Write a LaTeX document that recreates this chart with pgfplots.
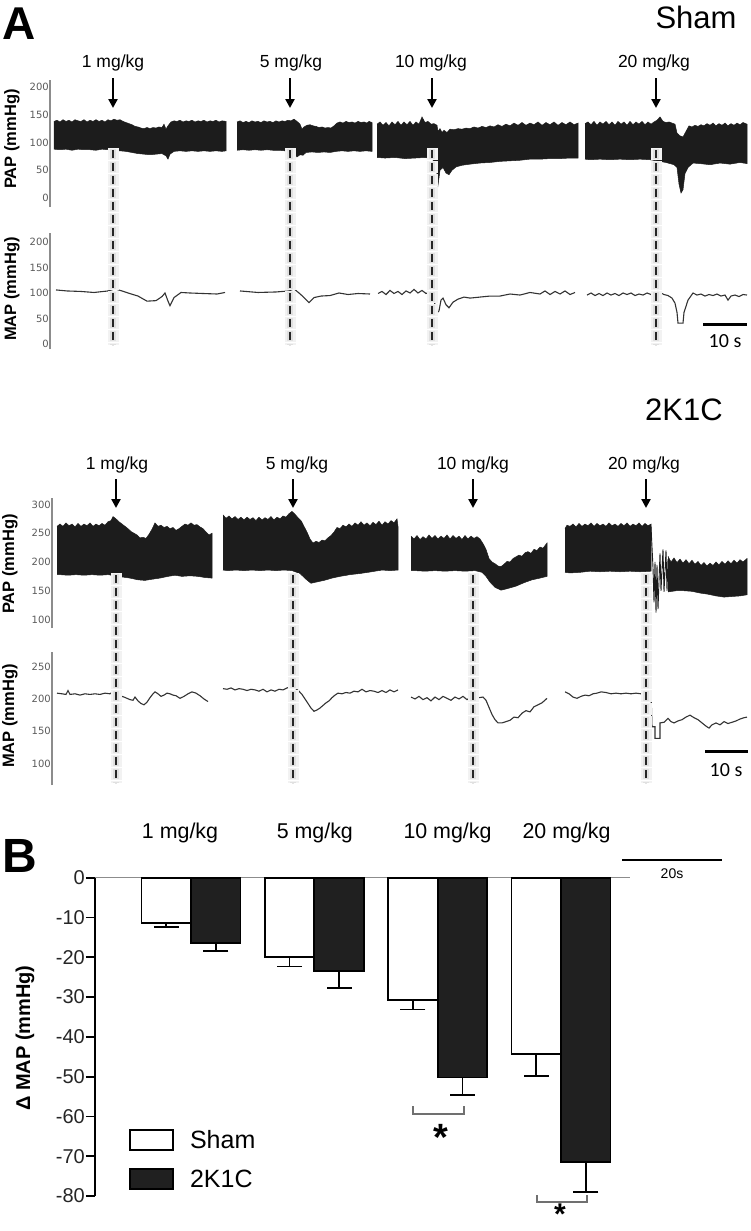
\documentclass[border=0pt]{standalone}
\usepackage{fontspec}
\setmainfont{Liberation Sans}
\newfontfamily\carlito{Carlito}
\newfontfamily\dejavu{DejaVu Sans}
\usepackage{pgfplots}
\pgfplotsset{compat=1.18}
\usetikzlibrary{arrows.meta}
\definecolor{axgray}{HTML}{8C8C8C}
\definecolor{tickgray}{HTML}{5A5A5A}
\definecolor{trace}{HTML}{1C1C1C}
\definecolor{mapline}{HTML}{333333}
\definecolor{barblack}{HTML}{202020}

\pgfplotsset{
  trace/.style={
    scale only axis, anchor=north west,
    axis x line=none, axis y line=left,
    axis line style={-, draw=axgray, line width=1.8pt},
    major tick length=0pt, xtick=\empty,
    yticklabel style={font=\dejavu\fontsize{10}{12}\selectfont, text=tickgray, inner sep=1pt},
    /pgf/number format/assume math mode=true,
    ylabel style={font=\bfseries\fontsize{16.5}{18}\selectfont, anchor=center},
  },
  pap/.style={fill=trace, draw=trace, line width=0.5pt},
  mapl/.style={draw=mapline, line width=1.1pt},
}

\begin{document}
\begin{tikzpicture}
\path[use as bounding box] (0pt,0pt) rectangle (750pt,-1231pt);

%================ Sham PAP
\begin{axis}[trace, at={(50pt,-80pt)}, width=700pt, height=127pt,
  xmin=50, xmax=750, ymin=-16.2, ymax=212.6, ytick={0,50,100,150,200},
  ylabel={PAP (mmHg)}, ylabel style={at={(axis description cs:-0.0543,0.535)}}]
\addplot[pap] coordinates {
(54,138) (57,140) (60,137) (63,141) (66,138) (69,140) (72,137) (75,141) (78,139) (81,138) (84,141) (87,137) (90,140) (93,138) (96,141) (99,138) (102,140) (105,137) (108,141) (111,139) (114,142) (117,140) (120,141) (123,138) (126,136) (129,134) (132,132) (135,129) (138,128) (141,126) (144,125) (147,127) (150,125) (153,127) (156,126) (159,128) (162,127) (164,133) (166,124) (168,130) (171,137) (174,139) (177,138) (180,140) (183,137) (186,139) (189,138) (192,140) (195,137) (198,139) (201,138) (204,140) (207,137) (210,139) (213,138) (216,140) (219,137) (222,139) (226,138)
(226,85) (222,84) (216,85) (210,84) (204,85) (198,84) (192,85) (186,84) (180,85) (174,84) (170,79) (168,70) (166,76) (162,80) (156,79) (150,78) (144,79) (138,80) (132,82) (126,84) (120,85) (114,86) (108,87) (102,88) (96,86) (90,87) (84,87) (78,88) (72,86) (66,88) (60,87) (54,88)};
\addplot[pap] coordinates {
(237,137) (240,139) (243,136) (246,138) (249,136) (252,139) (255,137) (258,138) (261,136) (264,139) (267,137) (270,138) (273,136) (276,139) (279,137) (282,139) (285,138) (288,140) (291,139) (294,142) (297,138) (300,133) (302,124) (304,128) (307,131) (310,132) (313,130) (316,129) (319,127) (322,128) (325,126) (328,127) (331,126) (334,130) (337,135) (340,137) (343,135) (346,138) (349,136) (352,137) (355,135) (358,138) (361,136) (364,137) (367,135) (369,138) (372,136)
(372,84) (366,85) (360,84) (354,85) (348,84) (342,85) (336,84) (330,82) (324,83) (318,82) (312,83) (306,82) (303,77) (300,78) (297,74) (294,80) (290,84) (285,85) (279,86) (273,86) (267,87) (261,86) (255,87) (249,86) (243,87) (237,86)};
\addplot[pap] coordinates {
(377,133) (380,137) (383,131) (386,136) (389,130) (392,137) (395,132) (398,138) (401,131) (404,137) (407,132) (410,138) (413,131) (416,137) (419,133) (422,146) (425,136) (428,138) (431,133) (434,134) (437,131) (438,120) (440,125) (442,118) (444,122) (447,118) (450,124) (454,123) (458,125) (462,124) (466,126) (470,125) (474,128) (478,126) (482,129) (486,127) (490,130) (494,128) (498,132) (502,129) (506,133) (510,130) (514,135) (518,131) (522,136) (526,131) (530,135) (534,132) (538,137) (542,131) (546,136) (550,132) (554,137) (558,131) (562,136) (566,132) (570,137) (574,132) (578,135)
(578,72) (570,72) (560,71) (550,71) (540,70) (530,70) (520,68) (510,67) (500,66) (490,64) (480,63) (470,61) (462,59) (456,56) (452,50) (449,42) (446,45) (443,55) (440,50) (438,23) (436,60) (432,71) (425,73) (415,72) (405,71) (395,73) (385,72) (377,73)};
\addplot[pap] coordinates {
(585,134) (588,137) (591,132) (594,138) (597,131) (600,137) (603,133) (606,138) (609,132) (612,137) (615,131) (618,138) (621,133) (624,137) (627,131) (630,138) (633,132) (636,137) (639,133) (642,138) (645,132) (648,137) (651,133) (654,137) (657,140) (660,146) (663,138) (666,136) (669,137) (672,135) (675,133) (677,117) (680,112) (683,110) (686,120) (689,130) (692,128) (695,131) (698,129) (701,132) (704,130) (707,134) (710,131) (713,135) (716,130) (719,134) (722,131) (725,135) (728,130) (731,134) (734,131) (737,135) (740,132) (743,136) (747,133)
(747,62) (740,64) (730,61) (720,63) (710,60) (700,62) (693,63) (688,55) (685,44) (683,15) (681,9) (679,25) (677,55) (674,60) (670,62) (666,64) (660,66) (650,69) (640,70) (630,69) (620,70) (610,69) (600,70) (590,69) (585,70)};
\end{axis}

%================ Sham MAP
\begin{axis}[trace, at={(50pt,-233pt)}, width=700pt, height=116pt,
  xmin=50, xmax=750, ymin=-9.8, ymax=217.6, ytick={0,50,100,150,200},
  ylabel={MAP (mmHg)}, ylabel style={at={(axis description cs:-0.0543,0.517)}}]
\addplot[mapl] coordinates {(56,106) (67,104) (81,103) (94,101) (108,104) (115,108) (122,104) (128,100) (138,94) (147,84) (156,85) (162,93) (165,100) (168,84) (170,75) (174,91) (181,101) (190,100) (203,99) (217,98) (225,101)};
\addplot[mapl] coordinates {(240,104) (258,101) (276,102) (289,104) (294,108) (299,100) (303,93) (309,81) (314,91) (321,94) (330,95) (339,100) (348,97) (358,99) (370,98)};
\addplot[mapl] coordinates {(378,99) (382,103) (386,97) (390,105) (394,99) (398,103) (402,97) (406,104) (410,100) (414,107) (418,100) (422,105) (426,99) (430,102) (433,96) (435,77) (437,61) (439,65) (441,86) (443,90) (446,77) (449,71) (453,82) (458,88) (464,92) (470,90) (480,92) (490,94) (500,94) (510,98) (520,96) (530,101) (540,98) (545,104) (550,97) (555,103) (560,98) (565,104) (570,97) (575,101)};
\addplot[mapl] coordinates {(587,96) (591,100) (595,95) (599,99) (603,95) (607,100) (611,96) (615,99) (619,95) (623,100) (627,97) (631,100) (635,95) (639,98) (643,96) (647,100) (651,97) (655,99) (658,103) (661,100) (664,97) (668,95) (672,90) (675,80) (677,62) (678,41) (683,41) (684,62) (688,86) (693,100) (697,96) (701,98) (705,94) (709,97) (713,95) (717,98) (721,94) (725,96) (728,86) (731,94) (735,96) (739,93) (743,97) (747,96)};
\end{axis}

%================ 2K1C PAP
\begin{axis}[trace, at={(52pt,-498pt)}, width=698pt, height=130pt,
  xmin=52, xmax=750, ymin=85.2, ymax=311.3, ytick={100,150,200,250,300},
  ylabel={PAP (mmHg)}, ylabel style={at={(axis description cs:-0.0602,0.492)}}]
\addplot[pap] coordinates {
(57,262) (60,266) (63,262) (66,268) (69,263) (72,266) (75,261) (78,267) (81,262) (84,266) (87,263) (90,268) (93,262) (96,266) (99,263) (102,267) (105,264) (108,270) (111,272) (113,279) (116,275) (119,270) (122,266) (125,262) (128,258) (131,253) (134,250) (137,247) (140,242) (143,243) (146,241) (149,248) (152,257) (155,268) (158,262) (161,264) (164,260) (167,262) (170,258) (173,260) (176,255) (179,258) (182,262) (185,266) (188,264) (191,268) (194,264) (197,265) (200,261) (203,258) (206,252) (209,247) (212,250)
(212,172) (205,173) (198,175) (190,176) (182,175) (175,177) (168,175) (160,172) (152,170) (145,168) (138,169) (130,172) (122,174) (115,176) (108,178) (100,177) (92,178) (84,177) (76,178) (68,177) (60,178) (57,178)};
\addplot[pap] coordinates {
(223,282) (226,276) (229,280) (232,275) (235,279) (238,274) (241,278) (244,273) (247,278) (250,274) (253,277) (256,272) (259,278) (262,273) (265,277) (268,274) (271,279) (274,273) (277,278) (280,275) (283,280) (286,278) (289,284) (292,288) (295,283) (298,277) (301,272) (304,262) (307,252) (310,240) (313,233) (316,236) (319,234) (322,238) (325,237) (328,242) (331,246) (334,252) (337,260) (340,258) (343,264) (346,261) (349,266) (352,262) (355,268) (358,264) (361,270) (364,264) (367,268) (370,263) (373,269) (376,265) (379,271) (382,264) (385,270) (388,266) (391,272) (394,268) (397,275) (398,262)
(398,186) (390,185) (382,186) (375,184) (368,182) (360,180) (350,178) (340,175) (332,172) (324,168) (316,165) (311,163) (306,170) (300,180) (292,185) (284,186) (276,185) (268,186) (260,185) (252,186) (244,185) (236,186) (228,185) (223,186)};
\addplot[pap] coordinates {
(411,245) (414,240) (417,246) (420,239) (423,244) (426,240) (429,247) (432,241) (435,246) (438,240) (441,245) (444,241) (447,247) (450,240) (453,246) (456,241) (459,245) (462,239) (465,246) (468,240) (471,245) (474,241) (477,244) (480,240) (483,232) (486,222) (489,206) (492,200) (495,197) (498,193) (501,192) (504,196) (507,201) (510,200) (513,206) (516,209) (519,212) (522,210) (525,216) (528,218) (531,215) (534,222) (537,220) (540,226) (543,224) (547,233)
(547,175) (540,172) (532,169) (524,164) (516,158) (508,154) (501,151) (495,156) (490,165) (486,175) (482,182) (475,185) (465,184) (455,185) (445,184) (435,185) (425,184) (415,185) (411,185)};
\addplot[pap] coordinates {
(565,258) (567,264) (570,262) (573,266) (576,261) (579,267) (582,262) (585,266) (588,263) (591,268) (594,262) (597,267) (600,263) (603,266) (606,262) (609,268) (612,263) (615,266) (618,262) (621,267) (624,263) (627,268) (630,262) (633,266) (636,263) (639,268) (642,262) (645,267) (648,263) (651,266)
(651,184) (640,183) (630,184) (620,183) (610,184) (600,183) (590,184) (580,182) (570,181) (565,182)};
\addplot[draw=trace, line width=0.9pt] coordinates {(651,262) (653,190) (654,130) (655,200) (656,112) (657,195) (658,118) (660,215) (661,150) (663,222) (664,148) (666,220) (667,150) (668,205)};
\addplot[pap] coordinates {
(668,210) (671,200) (674,207) (677,199) (680,205) (683,198) (686,204) (689,197) (692,203) (695,196) (698,201) (701,194) (704,199) (707,193) (710,198) (713,194) (716,200) (719,195) (722,201) (725,196) (728,202) (731,197) (734,203) (737,198) (740,204) (743,200) (747,206)
(747,143) (740,141) (732,140) (724,139) (716,141) (708,144) (700,146) (692,149) (684,150) (676,150) (668,148)};
\end{axis}

%================ 2K1C MAP
\begin{axis}[trace, at={(52pt,-652pt)}, width=698pt, height=133pt,
  xmin=52, xmax=750, ymin=67, ymax=272.6, ytick={100,150,200,250},
  ylabel={MAP (mmHg)}, ylabel style={at={(axis description cs:-0.0602,0.519)}}]
\addplot[mapl] coordinates {(57,209) (62,208) (66,207) (68,213) (70,207) (75,208) (80,206) (85,208) (90,207) (95,208) (100,207) (105,209) (110,208) (113,211) (116,210) (120,205) (124,203) (127,201) (130,199) (133,198) (135,203) (138,197) (141,193) (144,191) (147,195) (150,202) (153,208) (155,211) (158,208) (161,204) (164,206) (167,209) (170,208) (173,206) (176,205) (180,201) (184,204) (188,208) (192,211) (196,209) (200,205) (204,200) (208,196)};
\addplot[mapl] coordinates {(223,216) (227,215) (231,217) (235,214) (239,216) (243,215) (247,213) (251,215) (255,214) (259,212) (263,215) (267,211) (271,214) (275,212) (279,215) (283,214) (287,217) (291,219) (295,217) (299,212) (302,207) (305,200) (308,193) (311,186) (314,181) (317,183) (320,186) (323,190) (326,194) (329,197) (332,202) (335,206) (338,209) (342,208) (346,210) (350,209) (354,212) (358,211) (362,215) (366,211) (370,213) (374,212) (378,210) (382,213) (386,210) (390,214) (394,211) (398,214)};
\addplot[mapl] coordinates {(411,203) (415,200) (419,204) (423,199) (427,202) (431,197) (435,203) (439,199) (443,204) (447,201) (451,198) (455,203) (459,200) (463,204) (467,199) (471,203) (475,205) (479,202) (483,203) (486,198) (489,187) (492,176) (495,168) (498,163) (502,163) (506,165) (510,167) (514,172) (518,171) (522,178) (526,182) (530,180) (534,188) (538,191) (542,194) (547,201)};
\addplot[mapl] coordinates {(565,211) (569,208) (573,203) (577,201) (581,204) (585,206) (589,205) (593,208) (597,209) (601,211) (606,210) (611,208) (616,209) (621,208) (626,209) (631,208) (636,209) (641,208) (646,208) (651,209) (652,157) (655,157) (655,139) (660,139) (660,163) (664,164) (668,170) (671,165) (674,163) (678,166) (682,168) (686,172) (690,175) (694,171) (698,168) (702,163) (706,158) (709,155) (712,160) (716,163) (720,160) (724,165) (728,162) (732,164) (736,166) (740,169) (744,171) (747,172)};
\end{axis}

%================ Panel B
\begin{axis}[scale only axis, anchor=north west, at={(95pt,-877.7pt)},
  width=535pt, height=318.3pt, clip=false,
  xmin=0.2216, xmax=4.5595, ymin=-80, ymax=0,
  axis x line=top, axis y line=left,
  axis line style={-},
  x axis line style={draw=axgray, line width=1.3pt},
  y axis line style={draw=black, line width=2pt},
  xtick={0.911,2.004,3.08,4.045},
  xticklabels={1 mg/kg, 5 mg/kg, 10 mg/kg, 20 mg/kg},
  x tick style={draw=none},
  xticklabel style={font=\fontsize{21.4}{24}\selectfont, anchor=center, yshift=35.7pt},
  ytick={-80,-70,-60,-50,-40,-30,-20,-10,0},
  yticklabels={-80,-70,-60,-50,-40,-30,-20,-10,0},
  y tick style={draw=black, line width=1.8pt},
  tick align=outside, major tick length=9pt,
  yticklabel style={font=\fontsize{20}{22}\selectfont, inner sep=1pt, text=black!85},
  ylabel={Δ MAP (mmHg)},
  ylabel style={font=\bfseries\fontsize{20}{22}\selectfont, anchor=center, at={(axis description cs:-0.1308,0.496)}},
  ybar=0pt, bar width=49.5pt,
  error bars/y dir=minus, error bars/y explicit,
  error bars/error bar style={line width=1.8pt, draw=black},
  error bars/error mark options={rotate=90, mark size=12.5pt, line width=1.8pt, draw=black},
  legend style={at={(axis description cs:0.0636,0.2136)}, anchor=north west, draw=none, fill=none,
    inner sep=0pt, font=\fontsize{25}{28}\selectfont, row sep=16pt,
    /tikz/every odd column/.append style={column sep=14pt}},
  legend cell align=left,
]
\addplot[fill=white, draw=black, line width=1.8pt,
  legend image code/.code={\draw[fill=white, draw=black, line width=1.8pt] (0pt,-10pt) rectangle (43pt,10pt);}]
  coordinates {(1,-11.4) -= (0,0.9) (2,-19.9) -= (0,2.4) (3,-30.7) -= (0,2.4) (4,-44.4) -= (0,5.4)};
\addlegendentry{Sham}
\addplot[fill=barblack, draw=black, line width=1.8pt,
  legend image code/.code={\draw[fill=barblack, draw=black, line width=1.8pt] (0pt,-10pt) rectangle (43pt,10pt);}]
  coordinates {(1,-16.5) -= (0,2.0) (2,-23.4) -= (0,4.4) (3,-50.2) -= (0,4.4) (4,-71.4) -= (0,7.5)};
\addlegendentry{2K1C}
\end{axis}

%================ annotations
\begin{scope}[x=1pt, y=-1pt]
% panel letters and group titles
\node[font=\bfseries\fontsize{46}{50}\selectfont] at (19,23.5) {A};
\node[font=\bfseries\fontsize{48}{52}\selectfont] at (19.5,855.5) {B};
\node[font=\fontsize{31}{34}\selectfont] at (696,17) {Sham};
\node[font=\fontsize{31}{34}\selectfont] at (684,410) {2K1C};
% dose labels and arrows
\foreach \xl/\xa/\t in {113/113/{1 mg/kg}, 291/290/{5 mg/kg}, 431/432/{10 mg/kg}, 654/656/{20 mg/kg}}{
  \node[font=\fontsize{17.5}{20}\selectfont] at (\xl,63) {\t};
  \draw[line width=2.4pt, -{Triangle[length=9pt,width=9pt]}] (\xa,78) -- (\xa,108);
}
\foreach \xl/\xa/\t in {117/116/{1 mg/kg}, 297/293/{5 mg/kg}, 473/473/{10 mg/kg}, 644/646/{20 mg/kg}}{
  \node[font=\fontsize{17.5}{20}\selectfont] at (\xl,465) {\t};
  \draw[line width=2.4pt, -{Triangle[length=9pt,width=9pt]}] (\xa,479) -- (\xa,508);
}
% dashed injection lines with soft halo
\foreach \xa in {113,290,432,656}{
  \draw[line width=11pt, black!5, dash pattern=on 12pt off 1pt] (\xa,148) -- (\xa,345);
  \draw[line width=6.5pt, black!12, dash pattern=on 10pt off 3pt] (\xa,149) -- (\xa,345);
  \draw[line width=2.6pt, black!85, dash pattern=on 8pt off 5pt] (\xa,150) -- (\xa,345);
}
\foreach \xa in {116,293,473,646}{
  \draw[line width=11pt, black!5, dash pattern=on 12pt off 1pt] (\xa,573) -- (\xa,783);
  \draw[line width=6.5pt, black!12, dash pattern=on 10pt off 3pt] (\xa,574) -- (\xa,783);
  \draw[line width=2.6pt, black!85, dash pattern=on 8pt off 5pt] (\xa,575) -- (\xa,783);
}
% scale bars
\draw[line width=3pt] (703,324) -- (747,324);
\node[font=\carlito\fontsize{20}{22}\selectfont] at (725,341) {10 s};
\draw[line width=3pt] (705,751) -- (748,751);
\node[font=\carlito\fontsize{20}{22}\selectfont] at (726,770) {10 s};
\draw[line width=2.5pt] (622,860) -- (722,860);
\node[font=\fontsize{14}{16}\selectfont] at (672,874) {20s};
% significance
\draw[axgray!80!black, line width=1.3pt] (413,1106) -- (413,1114) -- (464,1114) -- (464,1106);
\draw[axgray!80!black, line width=1.3pt] (537,1195) -- (537,1202) -- (587,1202) -- (587,1195);
\node[font=\bfseries\fontsize{38}{42}\selectfont, anchor=base, inner sep=0pt] at (441,1150) {*};
\node[font=\bfseries\fontsize{30}{34}\selectfont, anchor=base, inner sep=0pt] at (560,1224.5) {*};
\end{scope}
\end{tikzpicture}
\end{document}
